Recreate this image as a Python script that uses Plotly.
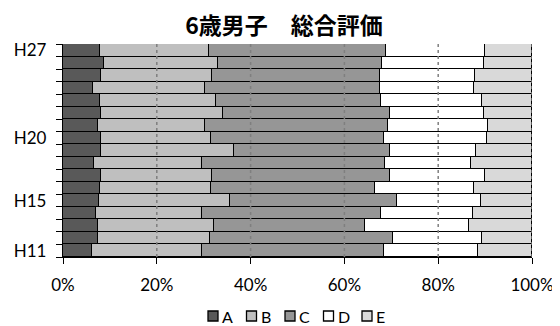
import plotly.graph_objects as go

# 6歳男子 総合評価 (percent share per grade), bottom (H11) to top (H27)
years = ["H11", "H12", "H13", "H14", "H15", "H16", "H17", "H18", "H19",
         "H20", "H21", "H22", "H23", "H24", "H25", "H26", "H27"]
labeled_years = ["H11", "H15", "H20", "H27"]

grade_a = [6.2, 7.4, 7.5, 7.0, 7.6, 7.9, 8.0, 6.6, 8.0, 8.2, 7.5, 8.2, 7.8, 6.3, 8.2, 8.7, 7.8]
grade_b = [23.5, 23.9, 24.7, 22.6, 27.9, 23.6, 23.8, 23.1, 28.5, 23.4, 22.8, 25.9, 24.9, 24.0, 23.5, 24.4, 23.3]
grade_c = [38.8, 39.1, 32.2, 38.1, 35.8, 35.0, 37.9, 38.9, 33.2, 36.9, 39.1, 35.6, 35.0, 37.2, 35.8, 34.9, 37.7]
grade_d = [19.9, 18.9, 22.2, 19.8, 17.8, 21.1, 20.3, 18.3, 18.3, 21.8, 21.3, 20.1, 21.7, 20.1, 20.4, 21.7, 21.2]
grade_e = [11.6, 10.7, 13.4, 12.5, 10.9, 12.4, 10.0, 13.1, 12.0, 9.7, 9.3, 10.2, 10.6, 12.4, 12.1, 10.3, 10.0]

grade_names = ["A", "B", "C", "D", "E"]
grade_colors = ["#595959", "#bfbfbf", "#969696", "#ffffff", "#d9d9d9"]
x_ticks = [0, 20, 40, 60, 80, 100]

FONT = "Lato, 'Noto Sans CJK JP', sans-serif"

fig = go.Figure()
for name, vals, color in zip(grade_names, [grade_a, grade_b, grade_c, grade_d, grade_e], grade_colors):
    fig.add_trace(go.Bar(
        y=years, x=vals, name=name, orientation="h",
        marker=dict(color=color, line=dict(color="black", width=1.3)),
        showlegend=False,
    ))

# dotted gridlines drawn over the bars
for t in x_ticks[1:]:
    fig.add_vline(x=t, line_width=1.5, line_dash="dot", line_color="#7f7f7f", layer="above")

# page body has an 8px margin, so the figure is 552x318
W, H = 552, 318
L, R, T, B = 55, 28, 36, 69
pw, ph = W - L - R, H - T - B

# compact legend (swatches + letters)
for i, (name, color) in enumerate(zip(grade_names, grade_colors)):
    x0 = 200 + i * 38.5
    y0 = 303
    fig.add_shape(type="rect", xref="paper", yref="paper",
                  x0=(x0 - L) / pw, x1=(x0 + 10 - L) / pw,
                  y0=(T + ph - y0) / ph, y1=(T + ph - y0 - 10) / ph,
                  fillcolor=color, line=dict(color="black", width=1.3))
    fig.add_annotation(text=name, xref="paper", yref="paper",
                       x=(x0 + 12 - L) / pw, y=(T + ph - y0 - 5) / ph,
                       xanchor="left", yanchor="middle", showarrow=False,
                       font=dict(size=16, color="black", family=FONT))

fig.update_layout(
    title=dict(text="<b>6歳男子　総合評価</b>", x=0.5, xanchor="center", y=1 - 18 / H, yanchor="middle",
               font=dict(size=23, color="black", family="'Noto Sans CJK JP', sans-serif")),
    barmode="stack",
    bargap=0,
    width=W, height=H,
    margin=dict(l=L, r=R, t=T, b=B),
    plot_bgcolor="white",
    paper_bgcolor="white",
    font=dict(family=FONT, size=17, color="black"),
    xaxis=dict(range=[0, 100], tickvals=x_ticks, ticktext=[f"{t}%" for t in x_ticks], showgrid=False,
               showline=True, linecolor="black", linewidth=1.3, ticklabelstandoff=6, automargin=False,
               ticks="outside", ticklen=6, tickcolor="black", zeroline=False),
    yaxis=dict(categoryorder="array", categoryarray=years,
               tickvals=years, ticktext=[y if y in labeled_years else "" for y in years],
               tickson="boundaries", ticks="outside", ticklen=6, tickcolor="black",
               ticklabelstandoff=12, automargin=False,
               showline=True, linecolor="black", linewidth=1.3, showgrid=False),
)

fig.write_html("out.html")
